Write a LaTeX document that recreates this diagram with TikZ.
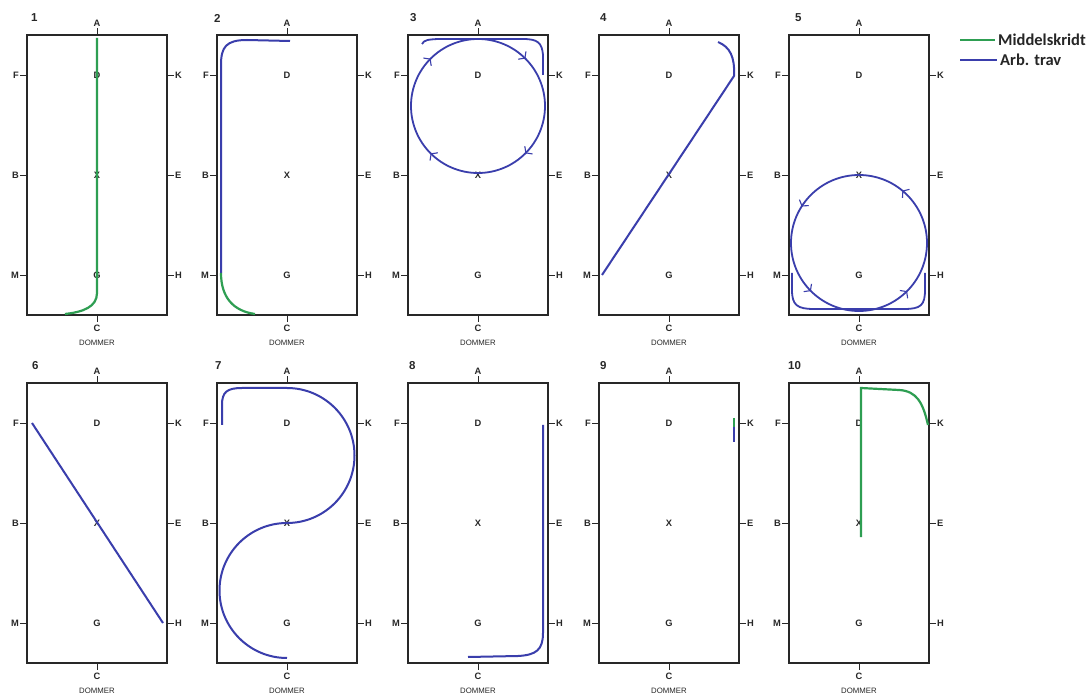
\documentclass[tikz,border=0pt]{standalone}
\usepackage{fontspec}
\setmainfont{Liberation Sans}
\newfontfamily\legendfont{Carlito}
\usetikzlibrary{arrows.meta,decorations.markings}
\definecolor{walkgreen}{RGB}{46,158,82}
\definecolor{trotblue}{RGB}{58,62,172}
\definecolor{arenagray}{RGB}{40,40,40}
\tikzset{
  arena/.style={draw=arenagray,line width=1.4pt},
  tickmark/.style={draw=arenagray,line width=0.9pt},
  lbl/.style={inner sep=0pt,font=\fontsize{9.3}{10}\selectfont\bfseries,text=arenagray},
  judge/.style={inner sep=0pt,font=\fontsize{7.8}{8}\selectfont,text=arenagray},
  pnum/.style={inner sep=0pt,anchor=west,font=\fontsize{11.5}{12}\selectfont\bfseries,text=arenagray},
  greenpath/.style={draw=walkgreen,line width=2.2pt},
  bluepath/.style={draw=trotblue,line width=2pt},
  chev/.style={draw=trotblue,line width=1.1pt},
  barb/.tip={Straight Barb[length=4pt,width=11pt,line width=1.1pt]},
  legtext/.style={inner sep=0pt,anchor=west,font=\fontsize{16.5}{17}\selectfont\legendfont\bfseries,text=black!85}
}
\newcommand{\arenapanel}[4]{%
  \begin{scope}[shift={(#1,#2)}]
    \draw[arena] (0,0) rectangle (140,280);
    \draw[tickmark] (70,0) -- (70,-7);
    \draw[tickmark] (70,280) -- (70,287);
    \draw[tickmark] (0,40) -- (-7,40);
    \draw[tickmark] (0,140) -- (-7,140);
    \draw[tickmark] (0,240) -- (-7,240);
    \draw[tickmark] (140,40) -- (147,40);
    \draw[tickmark] (140,140) -- (147,140);
    \draw[tickmark] (140,240) -- (147,240);
    \node[lbl] (p#3A) at (70,-12) {A};
    \node[lbl] (p#3C) at (70,293) {C};
    \node[judge] (p#3J) at (70,308) {DOMMER};
    \node[lbl,anchor=east] (p#3F) at (-8,40) {F};
    \node[lbl,anchor=east] (p#3B) at (-8,140) {B};
    \node[lbl,anchor=east] (p#3M) at (-8,240) {M};
    \node[lbl,anchor=west] (p#3K) at (148,40) {K};
    \node[lbl,anchor=west] (p#3E) at (148,140) {E};
    \node[lbl,anchor=west] (p#3H) at (148,240) {H};
    \node[lbl] (p#3D) at (70,40) {D};
    \node[lbl] (p#3X) at (70,140) {X};
    \node[lbl] (p#3G) at (70,240) {G};
    \node[pnum] (p#3N) at (#4,-17) {#3};
  \end{scope}}
\begin{document}
\begin{tikzpicture}[x=1pt,y=-1pt]
\useasboundingbox (0,0) rectangle (1090,700);
\fill[white] (0,0) rectangle (1090,700);
% row 1
\arenapanel{27}{35}{1}{4}
\arenapanel{217}{35}{2}{-3}
\arenapanel{408}{35}{3}{2}
\arenapanel{599}{35}{4}{1}
\arenapanel{789}{35}{5}{6}
% row 2
\arenapanel{27}{383}{6}{5}
\arenapanel{217}{383}{7}{-2}
\arenapanel{408}{383}{8}{1}
\arenapanel{599}{383}{9}{1}
\arenapanel{789}{383}{10}{-1}
% panel 1
\begin{scope}[shift={(27,35)}]
  \draw[greenpath] (70,3) -- (70,258) .. controls (70,272) and (56,277) .. (38,279);
\end{scope}
% panel 2
\begin{scope}[shift={(217,35)}]
  \draw[bluepath] (73,6) -- (30,5) .. controls (9,5) and (4,12) .. (4,30) -- (4,238);
  \draw[greenpath] (4,238) .. controls (4,262) and (16,276) .. (38,279);
\end{scope}
% panel 3
\begin{scope}[shift={(408,35)}]
  \draw[bluepath,line width=1.8pt] (14,9) .. controls (16,5) and (20,4.5) .. (30,4) -- (115,4)
     .. controls (130,4) and (134,8) .. (135,20) -- (135,40);
  \draw[bluepath,line width=1.8pt,postaction={decorate},decoration={markings,
     mark=at position 0.125 with {\arrow[chev]{barb}},
     mark=at position 0.375 with {\arrow[chev]{barb}},
     mark=at position 0.625 with {\arrow[chev]{barb}},
     mark=at position 0.875 with {\arrow[chev]{barb}}}]
     (70,71) circle[radius=67];
\end{scope}
% panel 4
\begin{scope}[shift={(599,35)}]
  \draw[bluepath] (3,240) -- (135,41) .. controls (136,22) and (131,12) .. (119,7);
\end{scope}
% panel 5
\begin{scope}[shift={(789,35)}]
  \draw[bluepath,line width=1.8pt] (3,238) -- (3,255) .. controls (3,270) and (8,274) .. (25,274)
     -- (115,274) .. controls (132,274) and (136,270) .. (136,255) -- (136,238);
  \draw[bluepath,line width=1.8pt,postaction={decorate},decoration={markings,
     mark=at position 0.125 with {\arrowreversed[chev]{barb}},
     mark=at position 0.375 with {\arrowreversed[chev]{barb}},
     mark=at position 0.59 with {\arrowreversed[chev]{barb}},
     mark=at position 0.86 with {\arrowreversed[chev]{barb}}}]
     (70,208) circle[radius=68];
\end{scope}
% panel 6
\begin{scope}[shift={(27,383)}]
  \draw[bluepath] (5,40) -- (136,240);
\end{scope}
% panel 7
\begin{scope}[shift={(217,383)}]
  \draw[bluepath] (5,42) -- (5,22) .. controls (5,9) and (10,5) .. (25,5) -- (70,5)
     arc[start angle=-90,end angle=90,radius=67.5]
     arc[start angle=-90,end angle=-270,radius=67.5];
\end{scope}
% panel 8
\begin{scope}[shift={(408,383)}]
  \draw[bluepath] (135,42) -- (135,250) .. controls (135,267) and (128,272) .. (110,273) -- (60,274);
\end{scope}
% panel 9
\begin{scope}[shift={(599,383)}]
  \draw[greenpath,line width=1.8pt] (135,35) -- (135,44);
  \draw[bluepath,line width=1.8pt] (135,44) -- (135,59);
\end{scope}
% panel 10
\begin{scope}[shift={(789,383)}]
  \draw[greenpath] (72,154) -- (72,5) -- (110,7) .. controls (128,8) and (134,20) .. (139,42);
\end{scope}
% legend
\coordinate (lg1) at (960,40);
\coordinate (lg2) at (960,60);
\node[legtext] (legwalk) at (998,40) {Middelskridt};
\node[legtext] (legtrot) at (1000,60) {Arb. trav};
\draw[greenpath,line width=2.6pt] (lg1) -- ([xshift=-3pt]legwalk.west);
\draw[bluepath,line width=2.6pt] (lg2) -- ([xshift=-3pt]legtrot.west);
\end{tikzpicture}
\end{document}
